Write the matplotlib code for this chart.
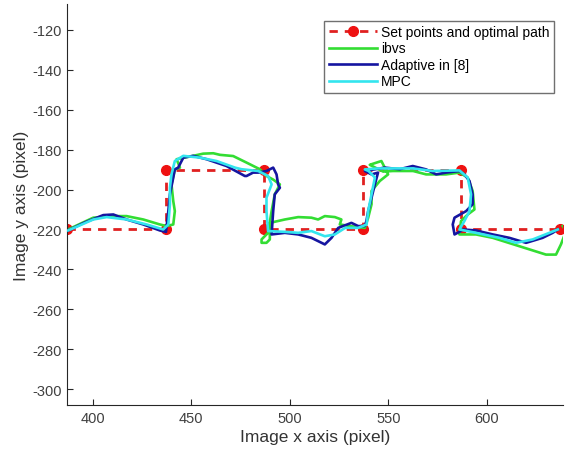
import numpy as np
import matplotlib.pyplot as plt

plt.rcParams['font.family'] = ['Liberation Sans', 'DejaVu Sans']
plt.rcParams['axes.unicode_minus'] = False

# set points of the optimal path
set_x = [387, 437, 437, 487, 487, 537, 537, 587, 587, 637]
set_y = [-220, -220, -190, -190, -220, -220, -190, -190, -220, -220]

# ibvs trajectory
ibvs_x = [387.6, 400.3, 410.5, 417.2, 425.7, 434.1, 437.5, 440.9, 441.7, 440.9, 440.0, 441.7,
          444.3, 442.6, 451.0, 456.1, 461.2, 464.6, 471.3, 478.1, 484.8, 488.2, 491.6, 495.0,
          492.4, 490.8, 489.0, 485.7, 485.7, 488.2, 489.9, 489.9, 497.5, 504.3, 511.0, 514.4,
          517.8, 522.9, 526.2, 525.4, 532.0, 538.1, 539.8, 541.5, 541.5, 545.7, 549.9, 548.2,
          546.5, 541.5, 540.6, 547.4, 552.3, 562.6, 569.2, 579.3, 586.1, 590.3, 592.8, 593.7,
          590.3, 586.9, 586.1, 594.5, 603.0, 616.5, 630.0, 635.1, 637.6, 640.2, 638.5]
ibvs_y = [-220.0, -214.1, -213.3, -213.3, -215.0, -217.5, -218.3, -217.5, -210.8, -205.8, -197.4, -189.9,
          -189.0, -184.8, -183.1, -182.0, -181.8, -182.6, -183.2, -186.5, -189.8, -193.2, -195.0, -197.4,
          -202.4, -210.8, -221.7, -225.0, -226.7, -226.7, -225.0, -216.7, -215.0, -213.8, -214.1, -215.0,
          -213.3, -213.8, -215.0, -217.5, -218.5, -219.2, -214.1, -207.4, -200.7, -195.7, -192.4, -189.0,
          -185.7, -187.3, -187.6, -191.0, -190.7, -190.7, -192.4, -192.4, -191.5, -194.0, -200.7, -210.0,
          -212.5, -215.8, -222.5, -222.5, -224.2, -228.4, -232.6, -232.6, -227.5, -220.8, -218.3]

# adaptive controller from [8]
adap_x = [387.6, 396.0, 405.4, 410.5, 417.2, 425.7, 434.1, 437.2, 438.4, 439.2, 440.9, 441.7,
          443.4, 446.0, 451.0, 457.8, 467.9, 477.2, 478.1, 481.4, 484.0, 488.2, 491.6, 493.3,
          494.1, 495.0, 492.4, 491.6, 490.8, 497.5, 504.3, 511.0, 517.8, 521.2, 524.6, 531.3,
          534.7, 538.1, 538.9, 539.8, 541.5, 543.2, 544.8, 541.5, 538.1, 548.2, 555.8, 562.4,
          569.2, 574.3, 579.3, 586.1, 588.6, 591.2, 592.8, 592.8, 589.5, 583.6, 582.7, 583.6,
          586.1, 587.8, 594.5, 603.0, 611.4, 619.9, 628.3, 633.4, 636.0]
adap_y = [-220.5, -216.5, -212.8, -212.5, -215.0, -217.5, -220.5, -221.2, -210.8, -202.4, -194.0, -189.9,
          -189.0, -184.0, -183.1, -184.8, -188.2, -193.2, -193.2, -191.5, -191.5, -190.7, -189.0, -192.4,
          -197.4, -199.1, -202.4, -210.8, -222.5, -221.7, -222.5, -224.2, -227.5, -224.2, -219.2, -216.7,
          -218.3, -218.3, -215.8, -210.8, -204.1, -197.4, -191.5, -192.4, -190.7, -189.0, -189.8, -188.2,
          -189.9, -192.4, -191.5, -190.7, -192.4, -195.7, -202.4, -207.4, -210.8, -214.1, -217.5, -222.5,
          -221.2, -220.0, -220.5, -222.5, -224.2, -226.7, -224.2, -221.7, -220.0]

# MPC trajectory
mpc_x = [387.6, 400.3, 407.1, 417.2, 427.4, 435.8, 438.4, 439.2, 439.2, 440.0, 441.7, 446.0,
         454.4, 462.9, 472.2, 475.5, 484.0, 489.0, 490.8, 488.2, 488.2, 489.0, 497.5, 504.3,
         511.0, 517.8, 522.9, 528.1, 534.7, 539.0, 539.8, 541.5, 543.2, 540.0, 538.1, 545.0,
         555.0, 562.4, 572.6, 586.1, 590.3, 592.0, 591.2, 588.6, 586.1, 594.5, 606.4, 614.8,
         623.3, 631.7, 636.0]
mpc_y = [-220.5, -215.0, -213.8, -215.0, -217.5, -220.0, -217.5, -207.4, -199.1, -192.4, -185.7, -183.1,
         -184.0, -185.7, -189.0, -189.8, -190.7, -193.2, -197.4, -204.1, -210.8, -220.8, -221.2, -221.7,
         -220.8, -223.4, -222.5, -219.2, -219.2, -217.5, -210.8, -202.4, -194.0, -190.7, -189.9, -189.4,
         -189.4, -189.4, -190.7, -190.4, -194.0, -202.4, -210.8, -215.8, -220.0, -221.7, -224.2, -226.7,
         -225.0, -221.7, -220.0]

fig = plt.figure(figsize=(5.68, 4.56), dpi=100)
ax = fig.add_axes([0.118, 0.1096, 0.8727, 0.8794])

ax.plot(set_x, set_y, '--', color='#e02020', lw=2.0, dashes=(3, 2.5),
        marker='o', markersize=7, mfc='#ee1111', mec='#ee1111',
        label='Set points and optimal path', zorder=1)
ax.plot(ibvs_x, ibvs_y, color='#33dd33', lw=1.9, label='ibvs', zorder=2)
ax.plot(adap_x, adap_y, color='#1515a0', lw=1.9, label='Adaptive in [8]', zorder=3)
ax.plot(mpc_x, mpc_y, color='#33e5ee', lw=1.9, label='MPC', zorder=4)

ax.set_xlim(387, 638.5)
ax.set_ylim(-308, -107)
ax.set_xticks(np.arange(400, 601, 50))
ax.set_yticks(np.arange(-300, -119, 20))

ax.spines['top'].set_visible(False)
ax.spines['right'].set_visible(False)
for s in ['left', 'bottom']:
    ax.spines[s].set_color('#262626')
    ax.spines[s].set_linewidth(0.8)
ax.tick_params(direction='in', length=4, width=0.8, colors='#262626',
               labelsize=10.5, pad=4)
for lab in ax.get_xticklabels() + ax.get_yticklabels():
    lab.set_color('#404040')

ax.set_xlabel('Image x axis (pixel)', fontsize=12.5, color='#333333', labelpad=3)
ax.set_ylabel('Image y axis (pixel)', fontsize=12.5, color='#333333', labelpad=2)

leg = ax.legend(loc='upper right', bbox_to_anchor=(0.9824, 0.9584), borderaxespad=0,
                fontsize=10, handlelength=3.5, handletextpad=0.3, labelspacing=0.18,
                borderpad=0.3, fancybox=False, framealpha=1)
leg.get_frame().set_edgecolor('#707070')
leg.get_frame().set_linewidth(1.0)

fig.savefig('out.png', dpi=100)
